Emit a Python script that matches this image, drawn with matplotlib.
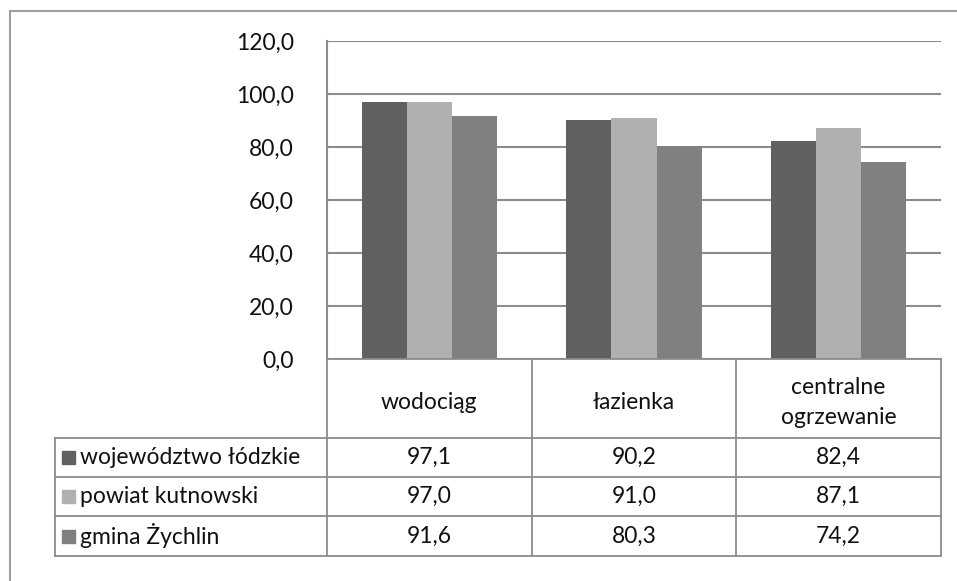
import matplotlib.pyplot as plt
import numpy as np
from matplotlib.patches import Rectangle

plt.rcParams['font.family'] = ['Lato', 'DejaVu Sans']

# dane
categories = ['wodociąg', 'łazienka', 'centralne\nogrzewanie']
series_names = ['województwo łódzkie', 'powiat kutnowski', 'gmina Żychlin']
wojewodztwo = [97.1, 90.2, 82.4]
powiat = [97.0, 91.0, 87.1]
gmina = [91.6, 80.3, 74.2]
values = [wojewodztwo, powiat, gmina]
colors = ['#606060', '#b0b0b0', '#808080']
yticks = [0, 20, 40, 60, 80, 100, 120]

W, H = 957, 581
FS = 16.5
fig = plt.figure(figsize=(W / 100, H / 100), dpi=100)

# układ w pikselach
plot_l, plot_r, plot_t, plot_b = 327, 941, 41, 359
row_edges = [359, 438, 477, 516, 556]
label_l = 55
grid_c = '#8c8c8c'

ax = fig.add_axes([plot_l / W, 1 - plot_b / H, (plot_r - plot_l) / W, (plot_b - plot_t) / H])
x = np.arange(len(categories))
bw = 0.22
for i, vals in enumerate(values):
    ax.bar(x + (i - 1) * bw, vals, bw, color=colors[i], zorder=3)
ax.set_xlim(-0.5, len(categories) - 0.5)
ax.set_ylim(0, 120)
ax.set_yticks(yticks)
ax.set_yticklabels([f'{v:.1f}'.replace('.', ',') for v in yticks], fontsize=FS, color='#111111')
ax.yaxis.grid(True, color=grid_c, linewidth=1.5, zorder=0)
ax.set_xticks([])
ax.tick_params(axis='y', length=0, pad=24)
for s in ['top', 'right', 'bottom']:
    ax.spines[s].set_visible(False)
ax.spines['left'].set_color(grid_c)
ax.spines['left'].set_linewidth(1.5)

# tabela danych
tab = fig.add_axes([0, 0, 1, 1])
tab.set_xlim(0, W)
tab.set_ylim(H, 0)
tab.axis('off')

col_w = (plot_r - plot_l) / len(categories)
col_edges = [plot_l + k * col_w for k in range(len(categories) + 1)]
lw = 1.3

# pionowe linie
for k, cx in enumerate(col_edges):
    tab.plot([cx, cx], [row_edges[0], row_edges[-1]], color=grid_c, lw=lw)
tab.plot([label_l, label_l], [row_edges[1], row_edges[-1]], color=grid_c, lw=lw)
# poziome linie
tab.plot([plot_l, plot_r], [row_edges[0], row_edges[0]], color=grid_c, lw=lw)
for ry in row_edges[1:]:
    tab.plot([label_l, plot_r], [ry, ry], color=grid_c, lw=lw)

# nagłówki kategorii
for k, cat in enumerate(categories):
    cx = (col_edges[k] + col_edges[k + 1]) / 2
    cy = (row_edges[0] + row_edges[1]) / 2
    tab.text(cx, cy + 4, cat, ha='center', va='center', fontsize=FS,
             color='#111111', linespacing=1.55)

# wiersze serii
for i, name in enumerate(series_names):
    cy = (row_edges[i + 1] + row_edges[i + 2]) / 2
    tab.add_patch(Rectangle((62, cy - 6.5), 13, 13, color=colors[i]))
    tab.text(80, cy, name, ha='left', va='center', fontsize=FS, color='#111111')
    for k in range(len(categories)):
        cx = (col_edges[k] + col_edges[k + 1]) / 2
        tab.text(cx, cy, f'{values[i][k]:.1f}'.replace('.', ','), ha='center',
                 va='center', fontsize=FS, color='#111111')

# ramka wykresu
tab.plot([10, W], [11, 11], color='#a0a0a0', lw=1.5)
tab.plot([10, 10], [11, H], color='#a0a0a0', lw=1.5)

fig.savefig('out.png', dpi=100)
